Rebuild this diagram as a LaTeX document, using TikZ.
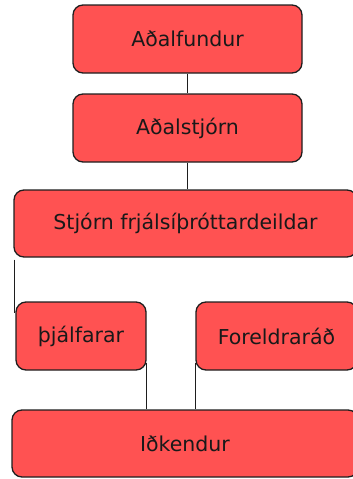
\documentclass[tikz,border=0pt]{standalone}
\usepackage{fontspec}
\setmainfont{DejaVu Sans}
\usetikzlibrary{backgrounds}
\definecolor{boxred}{RGB}{255,82,82}
\definecolor{edge}{RGB}{30,30,30}
\begin{document}
\begin{tikzpicture}[x=1pt,y=-1pt,
  orgbox/.style={draw=edge,line width=1.3pt,fill=boxred,rounded corners=10pt,
    inner sep=0pt,font=\fontsize{20.5}{24}\selectfont,text=black!90},
  link/.style={draw=edge,line width=1.6pt}]
\useasboundingbox (0,0) rectangle (353,479);
\clip (0,0) rectangle (353,479);
\node[orgbox,minimum width=229pt,minimum height=68pt] (b1) at (187.5,39) {Aðalfundur};
\node[orgbox,minimum width=229pt,minimum height=68pt] (b2) at (187.5,128) {Aðalstjórn};
\node[orgbox,minimum width=343pt,minimum height=67pt] (b3) at (185.5,223.5) {Stjórn frjálsíþróttardeildar};
\node[orgbox,minimum width=130pt,minimum height=68pt] (b4) at (81,336) {þjálfarar};
\node[orgbox,minimum width=161pt,minimum height=68pt] (b5) at (276.5,336) {Foreldraráð};
\node[orgbox,minimum width=346pt,minimum height=67pt] (b6) at (185,443.5) {Iðkendur};
\begin{scope}[on background layer]
\path[link] (b1.south) -- (b2.north);
\path[link] (b2.south) -- (b2.south |- b3.north);
\path[link] ([xshift=-1pt,yshift=-2pt]b4.north west |- b3.south) -- ([xshift=-1pt,yshift=-12pt]b4.north west);
\path[link] ([yshift=8pt]b4.south east) -- (b4.south east |- b6.north);
\path[link] ([yshift=8pt]b5.south west) -- (b5.south west |- b6.north);
\end{scope}
\end{tikzpicture}
\end{document}
